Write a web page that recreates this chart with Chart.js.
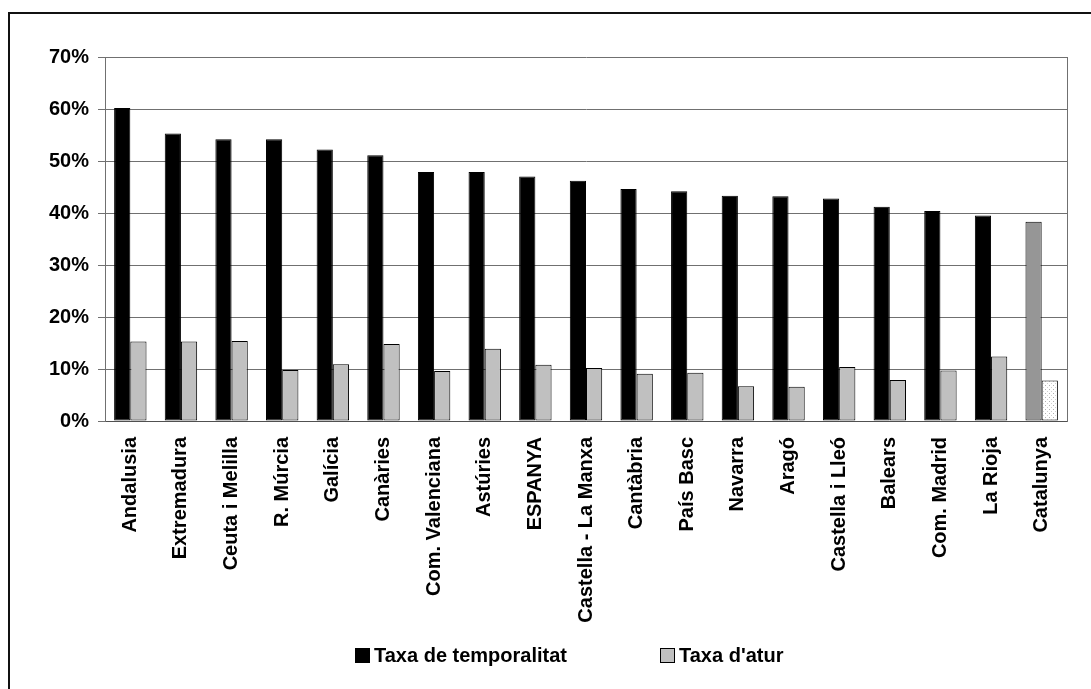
<!DOCTYPE html>
<html>
<head>
<meta charset="utf-8">
<script src="https://cdn.jsdelivr.net/npm/chart.js@4/dist/chart.umd.min.js"></script>
<style>
  html, body { margin: 0; padding: 0; background: #fff; overflow: hidden; }
  #wrap { position: relative; width: 1091px; height: 689px; }
  #frame { position: absolute; left: 8px; top: 12px; width: 1200px; height: 800px;
           border: 2px solid #111; pointer-events: none; box-sizing: border-box; }
  canvas { position: absolute; left: 0; top: 0; }
  .legend-item { position: absolute; top: 645px; height: 20px; display: flex; align-items: center;
                 font: bold 20px "Liberation Sans", Arial, sans-serif; line-height: 20px; color: #000;
                 white-space: nowrap; }
  .legend-box { width: 15px; height: 15px; box-sizing: border-box; margin-right: 4px; margin-top: 1px; }
</style>
</head>
<body>
<div id="wrap">
  <canvas id="chart" width="1091" height="689"></canvas>
  <div id="frame"></div>
  <div id="legend"></div>
</div>
<script>
// Regions ordered by temporary-contract rate, Catalunya highlighted last
const regions = ['Andalusia', 'Extremadura', 'Ceuta i Melilla', 'R. Múrcia', 'Galícia', 'Canàries',
  'Com. Valenciana', 'Astúries', 'ESPANYA', 'Castella - La Manxa', 'Cantàbria', 'País Basc',
  'Navarra', 'Aragó', 'Castella i Lleó', 'Balears', 'Com. Madrid', 'La Rioja', 'Catalunya'];
const taxaTemporalitat = [60.2, 55.3, 54.2, 54.2, 52.2, 51.1, 47.9, 47.9, 47.0, 46.2, 44.6, 44.2,
  43.3, 43.2, 42.8, 41.2, 40.4, 39.5, 38.3];
const taxaAtur = [15.3, 15.3, 15.4, 9.8, 10.9, 14.8, 9.6, 13.9, 10.8, 10.2, 9.1, 9.3,
  6.7, 6.6, 10.4, 7.9, 9.7, 12.4, 7.8];
const seriesNames = ['Taxa de temporalitat', "Taxa d'atur"];
const highlighted = ['Catalunya'];
const yTicks = [0, 10, 20, 30, 40, 50, 60, 70];

const FONT = { family: '"Liberation Sans", Arial, sans-serif', size: 20, weight: 'bold' };
const GRID = '#707070';

// Light dotted fill for the highlighted unemployment bar
function dotPattern() {
  const c = document.createElement('canvas');
  c.width = 4; c.height = 4;
  const g = c.getContext('2d');
  g.fillStyle = '#ffffff'; g.fillRect(0, 0, 4, 4);
  g.fillStyle = '#b0b0b0'; g.fillRect(1, 1, 1, 1);
  g.fillStyle = '#d0d0d0'; g.fillRect(3, 3, 1, 1);
  return g.createPattern(c, 'repeat');
}
const dots = dotPattern();
const isHighlighted = ctx => ctx.dataIndex !== undefined && highlighted.includes(regions[ctx.dataIndex]);

const chart = new Chart(document.getElementById('chart'), {
  type: 'bar',
  data: {
    labels: regions,
    datasets: [
      {
        label: seriesNames[0],
        data: taxaTemporalitat,
        backgroundColor: ctx => isHighlighted(ctx) ? '#969696' : '#000000',
        borderColor: '#000000',
        borderWidth: 1,
        borderSkipped: false
      },
      {
        label: seriesNames[1],
        data: taxaAtur,
        backgroundColor: ctx => isHighlighted(ctx) ? dots : '#c0c0c0',
        borderColor: '#000000',
        borderWidth: 1,
        borderSkipped: false
      }
    ]
  },
  options: {
    responsive: false,
    animation: false,
    layout: { padding: { left: 8, right: 0, top: 57, bottom: 48 } },
    datasets: { bar: { categoryPercentage: 0.64, barPercentage: 1.0 } },
    scales: {
      x: {
        grid: { display: false, drawTicks: false },
        border: { display: true, color: '#505050', width: 1 },
        ticks: { color: '#000', font: FONT, minRotation: 90, maxRotation: 90, padding: 16, autoSkip: false },
        afterFit: s => { s.height = 220; }
      },
      y: {
        min: 0,
        max: 70,
        afterBuildTicks: s => { s.ticks = yTicks.map(v => ({ value: v })); },
        grid: { color: GRID, lineWidth: 1, drawTicks: true, tickLength: 7 },
        border: { display: true, color: GRID, width: 1 },
        ticks: { color: '#000', font: FONT, padding: 9, callback: v => v + '%' },
        afterFit: s => { s.width = 97; }
      },
      // Right-hand edge of the plot area
      yRight: {
        position: 'right',
        min: 0,
        max: 70,
        grid: { display: false, drawTicks: false },
        border: { display: true, color: GRID, width: 1 },
        ticks: { display: false },
        afterFit: s => { s.width = 24; }
      }
    },
    plugins: {
      legend: { display: false },
      tooltip: { enabled: false }
    }
  }
});

// Legend built from the chart's own legend items
const legendX = [355, 660];
const legendEl = document.getElementById('legend');
Chart.defaults.plugins.legend.labels.generateLabels(chart).forEach((item, i) => {
  const el = document.createElement('div');
  el.className = 'legend-item';
  el.style.left = legendX[i] + 'px';
  const box = document.createElement('span');
  box.className = 'legend-box';
  box.style.background = item.fillStyle;
  box.style.border = '1px solid ' + (item.strokeStyle || '#000');
  const txt = document.createElement('span');
  txt.textContent = item.text;
  el.appendChild(box);
  el.appendChild(txt);
  legendEl.appendChild(el);
});
</script>
</body>
</html>
